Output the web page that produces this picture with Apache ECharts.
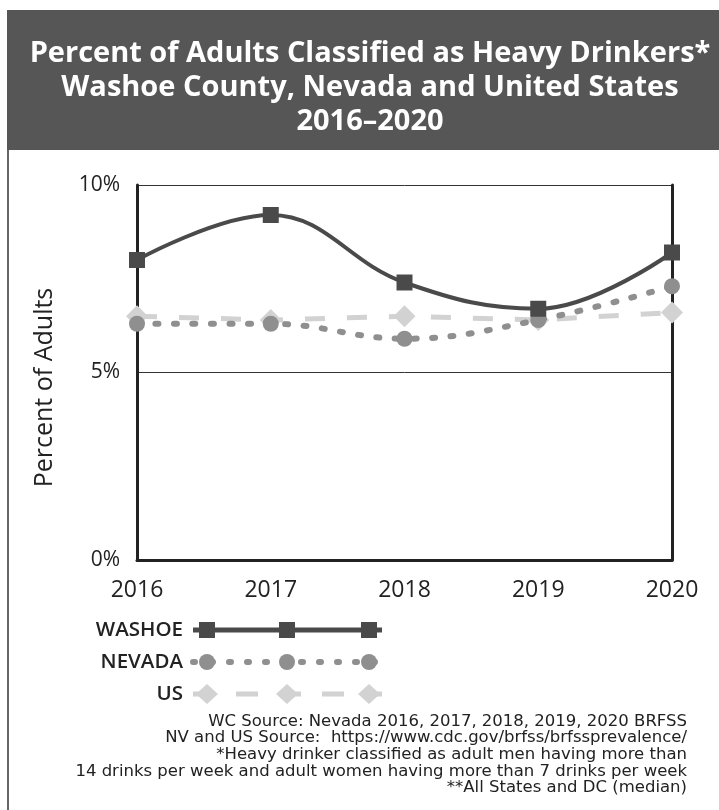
<!DOCTYPE html>
<html>
<head>
<meta charset="utf-8">
<script src="https://cdn.jsdelivr.net/npm/echarts@6/dist/echarts.min.js"></script>
<style>
  html, body { margin: 0; padding: 0; background: #ffffff; }
  #chart { width: 719px; height: 810px; }
</style>
</head>
<body>
<div id="chart"></div>
<script>
// ---- Data ----
const years = ['2016', '2017', '2018', '2019', '2020'];
const washoe = [8.0, 9.2, 7.4, 6.7, 8.2];
const nevada = [6.3, 6.3, 5.9, 6.4, 7.3];
const us = [6.5, 6.4, 6.5, 6.4, 6.6];
const seriesNames = ['WASHOE', 'NEVADA', 'US'];
const yTicks = [0, 5, 10];
const titleLines = [
  'Percent of Adults Classified as Heavy Drinkers*',
  'Washoe County, Nevada and United States',
  '2016\u20132020'
];
const yAxisTitle = 'Percent of Adults';
const footnoteLines = [
  'WC Source: Nevada 2016, 2017, 2018, 2019, 2020 BRFSS',
  'NV and US Source:  https://www.cdc.gov/brfss/brfssprevalence/',
  '*Heavy drinker classified as adult men having more than',
  '14 drinks per week and adult women having more than 7 drinks per week',
  '**All States and DC (median)'
];

// ---- Styles ----
const cWashoe = '#4a4a4a';
const cNevada = '#8f8f8f';
const cUS = '#d2d2d2';
const FONT = '"Open Sans", sans-serif';

const chart = echarts.init(document.getElementById('chart'), null, { renderer: 'canvas' });

// ---- Legend (drawn as graphic: label, styled line, three markers) ----
const legendRows = [630, 662, 694];
const legendX0 = 193, legendX1 = 382;
const legendMarkX = [207, 287, 369];
const legendGraphics = [];
const legendLineStyles = [
  { stroke: cWashoe, lineWidth: 5 },
  { stroke: cNevada, lineWidth: 6, lineDash: [2, 16], lineCap: 'round' },
  { stroke: cUS, lineWidth: 5, lineDash: [22, 21] }
];
seriesNames.forEach(function (name, i) {
  const y = legendRows[i];
  legendGraphics.push({
    type: 'text', x: 183, y: y,
    style: { text: name, fill: '#222222', font: '600 20.5px "Open Sans", sans-serif', textAlign: 'right', textVerticalAlign: 'middle' },
    silent: true, z: 100
  });
  legendGraphics.push({
    type: 'line', shape: { x1: legendX0, y1: y, x2: legendX1, y2: y },
    style: legendLineStyles[i], silent: true, z: 100
  });
  legendMarkX.forEach(function (x) {
    if (i === 0) {
      legendGraphics.push({ type: 'rect', shape: { x: x - 8, y: y - 8, width: 16, height: 16 }, style: { fill: cWashoe }, silent: true, z: 101 });
    } else if (i === 1) {
      legendGraphics.push({ type: 'circle', shape: { cx: x, cy: y, r: 8 }, style: { fill: cNevada }, silent: true, z: 101 });
    } else {
      legendGraphics.push({ type: 'polygon', shape: { points: [[x, y - 10], [x + 11, y], [x, y + 10], [x - 11, y]] }, style: { fill: cUS }, silent: true, z: 101 });
    }
  });
});

const option = {
  backgroundColor: '#ffffff',
  animation: false,
  title: {
    text: titleLines.join('\n'),
    left: 365,
    top: 32,
    textAlign: 'center',
    textStyle: {
      color: '#ffffff',
      fontFamily: FONT,
      fontWeight: 'bold',
      fontSize: 29,
      lineHeight: 34
    },
    z: 10
  },
  grid: { left: 137, right: 47, top: 185, bottom: 250, containLabel: false },
  legend: { show: false, data: seriesNames },
  xAxis: {
    type: 'category',
    data: years,
    boundaryGap: false,
    axisLine: { show: true, lineStyle: { color: '#222222', width: 3 } },
    axisTick: { show: false },
    axisLabel: { color: '#222222', fontFamily: FONT, fontSize: 23, margin: 19 },
    splitLine: { show: false }
  },
  yAxis: [{
    type: 'value',
    min: yTicks[0],
    max: yTicks[yTicks.length - 1],
    interval: 5,
    name: yAxisTitle,
    nameLocation: 'middle',
    nameGap: 80,
    nameTextStyle: { color: '#222222', fontFamily: FONT, fontSize: 25, padding: [0, 30, 0, 0] },
    axisLine: { show: true, lineStyle: { color: '#222222', width: 3 } },
    axisTick: { show: false },
    axisLabel: {
      color: '#222222', fontFamily: FONT, fontSize: 21, margin: 17,
      formatter: function (v) { return v + '%'; },
      padding: [0, 0, 10, 0]
    },
    splitLine: { show: true, lineStyle: { color: '#333333', width: 1 } }
  }, {
    type: 'value',
    position: 'right',
    min: yTicks[0],
    max: yTicks[yTicks.length - 1],
    interval: 5,
    axisLine: { show: true, lineStyle: { color: '#222222', width: 3 } },
    axisTick: { show: false },
    axisLabel: { show: false },
    splitLine: { show: false }
  }],
  series: [
    {
      name: 'US', type: 'line', data: us, yAxisIndex: 0,
      smooth: false,
      symbol: 'diamond', symbolSize: 22,
      itemStyle: { color: cUS },
      lineStyle: { color: cUS, width: 5, type: [20, 22] },
      z: 2
    },
    {
      name: 'NEVADA', type: 'line', data: nevada, yAxisIndex: 0,
      smooth: 0.4,
      symbol: 'circle', symbolSize: 16,
      itemStyle: { color: cNevada },
      lineStyle: { color: cNevada, width: 6, type: [3, 15.5], cap: 'round' },
      z: 3
    },
    {
      name: 'WASHOE', type: 'line', data: washoe, yAxisIndex: 0,
      smooth: 0.4,
      symbol: 'rect', symbolSize: 16,
      itemStyle: { color: cWashoe },
      lineStyle: { color: cWashoe, width: 4 },
      z: 4
    }
  ],
  graphic: [
    { type: 'rect', shape: { x: 7, y: 10, width: 712, height: 140 }, style: { fill: '#565656' }, z: -1, silent: true },
    { type: 'line', shape: { x1: 8, y1: 150, x2: 8, y2: 810 }, style: { stroke: '#666666', lineWidth: 2 }, silent: true },
    {
      type: 'text', x: 687, y: 713,
      style: {
        text: footnoteLines.join('\n'),
        fill: '#222222',
        font: '16.5px "DejaVu Sans", sans-serif',
        textAlign: 'right',
        lineHeight: 16.7
      },
      silent: true
    }
  ].concat(legendGraphics)
};

chart.setOption(option);
</script>
</body>
</html>
